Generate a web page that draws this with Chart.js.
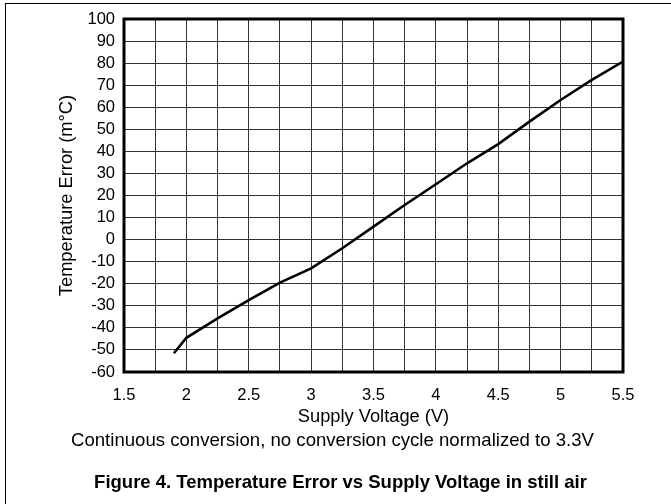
<!DOCTYPE html>
<html>
<head>
<meta charset="utf-8">
<script src="https://cdn.jsdelivr.net/npm/chart.js@4"></script>
<style>
    body { margin: 0; background: #fff; }
    #page { position: relative; width: 671px; height: 504px; overflow: hidden; }
    #frame { position: absolute; left: 5px; top: 3px; width: 700px; height: 600px;
             border-top: 1px solid #000; border-left: 1px solid #000; }
    #ChartHolder { position: absolute; left: 0; top: 0; }
    .note { position: absolute; width: 671px; text-align: center;
            font-family: "Liberation Sans", Arial, sans-serif; color: #000; white-space: nowrap; }
    #subNote { left: -3px; top: 429px; font-size: 18.6px; }
    #figCaption { left: 5px; top: 471px; font-size: 18.5px; font-weight: bold; }
</style>
</head>
<body>
<div id="page">
    <div id="frame"></div>
    <canvas id="ChartHolder" width="671" height="504"></canvas>
    <div class="note" id="subNote">Continuous conversion, no conversion cycle normalized to 3.3V</div>
    <div class="note" id="figCaption">Figure 4. Temperature Error vs Supply Voltage in still air</div>
</div>
<script>
// values
var supplyVoltage = [1.9, 2.0, 2.25, 2.5, 2.75, 3.0, 3.25, 3.5, 3.75, 4.0, 4.25, 4.5, 4.75, 5.0, 5.25, 5.5];
var tempError = [-51.5, -44.5, -35.7, -27.4, -19.5, -13.0, -3.9, 5.9, 15.7, 25.1, 34.6, 43.3, 53.5, 63.3, 72.4, 80.7];

var xMin = 1.5, xMax = 5.5, xStep = 0.25;
var yMin = -60, yMax = 100, yStep = 10;

var pts = supplyVoltage.map(function (v, i) { return { x: v, y: tempError[i] }; });

// thick box round the plot area
var plotFrame = {
    id: 'plotFrame',
    afterDatasetsDraw: function (chart) {
        var a = chart.chartArea;
        var c = chart.ctx;
        c.save();
        c.strokeStyle = '#000';
        c.lineWidth = 3;
        c.strokeRect(a.left, a.top, a.right - a.left, a.bottom - a.top);
        c.restore();
    }
};

var tickFont = { family: '"Liberation Sans", Arial, sans-serif', size: 16.5 };
var titleFont = { family: '"Liberation Sans", Arial, sans-serif', size: 18.3 };

var ctx = document.getElementById('ChartHolder');
var currentChart = new Chart(ctx, {
    type: 'scatter',
    data: {
        datasets: [{
            label: 'Temperature Error',
            data: pts,
            showLine: true,
            borderColor: '#000',
            borderWidth: 2.6,
            pointRadius: 0,
            tension: 0
        }]
    },
    options: {
        responsive: false,
        animation: false,
        devicePixelRatio: 1,
        layout: { padding: { left: 40, top: 19, right: 48, bottom: 72 } },
        plugins: { legend: { display: false }, tooltip: { enabled: false } },
        scales: {
            x: {
                type: 'linear',
                min: xMin,
                max: xMax,
                afterFit: function (s) { s.height = 60; },
                grid: { color: '#333', lineWidth: 1, drawTicks: false },
                border: { display: false },
                ticks: {
                    stepSize: xStep,
                    autoSkip: false,
                    maxRotation: 0,
                    padding: 14,
                    color: '#000',
                    font: tickFont,
                    callback: function (v) {
                        return Math.abs(v * 2 - Math.round(v * 2)) < 1e-6 ? String(v) : '';
                    }
                },
                title: { display: true, text: 'Supply Voltage (V)', color: '#000', font: titleFont, padding: { top: 0, bottom: 4 } }
            },
            y: {
                min: yMin,
                max: yMax,
                afterFit: function (s) { s.width = 84; },
                grid: { color: '#333', lineWidth: 1, drawTicks: false },
                border: { display: false },
                ticks: { stepSize: yStep, autoSkip: false, padding: 9, color: '#000', font: tickFont },
                title: { display: true, text: 'Temperature Error (m°C)', color: '#000', font: titleFont, padding: { top: 16, bottom: 0 } }
            }
        }
    },
    plugins: [plotFrame]
});
</script>
</body>
</html>
